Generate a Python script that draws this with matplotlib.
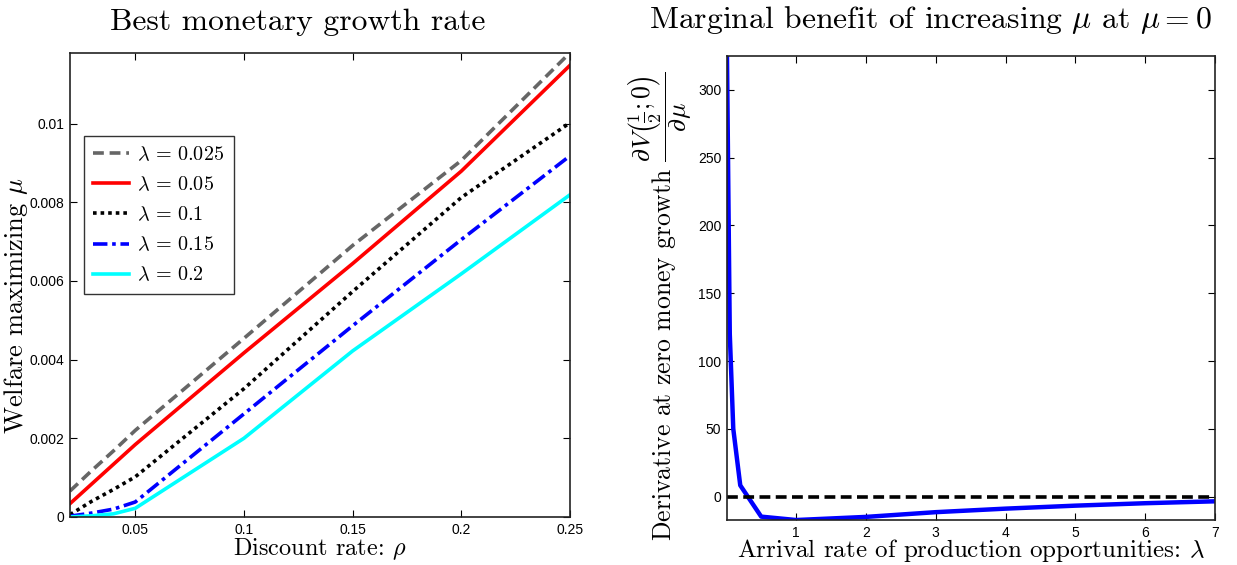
import matplotlib
matplotlib.use("Agg")
import matplotlib.pyplot as plt

plt.rcParams['mathtext.fontset'] = 'cm'
plt.rcParams['axes.unicode_minus'] = False

# left panel: welfare maximizing mu vs discount rate
rho = [0.02, 0.03, 0.04, 0.05, 0.1, 0.15, 0.2, 0.25]
mu_0025 = [0.00066, 0.00118, 0.00168, 0.0022, 0.00454, 0.0069, 0.00906, 0.0118]
mu_005 = [0.00034, 0.00084, 0.00134, 0.00184, 0.00417, 0.00644, 0.00879, 0.01148]
mu_01 = [0.00006, 0.0004, 0.0007, 0.00102, 0.00326, 0.00573, 0.00812, 0.01002]
mu_015 = [0.00002, 0.0001, 0.0002, 0.00038, 0.00262, 0.00486, 0.00705, 0.00918]
mu_02 = [0.0, 0.00003, 0.00008, 0.00022, 0.002, 0.00422, 0.00618, 0.00819]
legend_labels = [r'$\lambda\,=\,0.025$', r'$\lambda\,=\,0.05$', r'$\lambda\,=\,0.1$',
                 r'$\lambda\,=\,0.15$', r'$\lambda\,=\,0.2$']
left_yticks = [0, 0.002, 0.004, 0.006, 0.008, 0.01]
left_xticks = [0.05, 0.1, 0.15, 0.2, 0.25]

# right panel: derivative at zero money growth vs arrival rate
lam = [0.01, 0.05, 0.1, 0.2, 0.5, 1, 2, 3, 4, 5, 6, 7]
deriv = [325, 120, 50, 8.3, -14.8, -17.3, -15.0, -11.5, -8.9, -6.7, -4.9, -3.5]
right_yticks = [0, 50, 100, 150, 200, 250, 300]
right_xticks = [1, 2, 3, 4, 5, 6, 7]

serif = 'cmr10'
tickfont = 'Liberation Sans'

fig = plt.figure(figsize=(12.37, 5.65), dpi=100)
ax1 = fig.add_axes([0.0566, 0.085, 0.4042, 0.8217])
ax2 = fig.add_axes([0.5877, 0.0796, 0.3945, 0.8213])

series = [mu_0025, mu_005, mu_01, mu_015, mu_02]
colors = ['#666666', '#ff0000', '#000000', '#0000ff', '#00ffff']
styles = [(0, (3, 1.6)), '-', (0, (1, 1.1)), (0, (4, 1.3, 1, 1.3)), '-']
for ys, c, ls, lab in zip(series, colors, styles, legend_labels):
    ax1.plot(rho, ys, color=c, linestyle=ls, linewidth=2.6, label=lab)

ax1.set_xlim(0.02, 0.25)
ax1.set_ylim(0, 0.0118)
ax1.set_xticks(left_xticks)
ax1.set_xticklabels(['0.05', '0.1', '0.15', '0.2', '0.25'])
ax1.set_yticks(left_yticks)
ax1.set_yticklabels(['0', '0.002', '0.004', '0.006', '0.008', '0.01'])
ax1.set_title('Best monetary growth rate', fontsize=22.8, family=serif,
              x=0.456, pad=16)
ax1.set_xlabel(r'Discount rate: $\rho$', fontsize=17.5, family=serif, labelpad=0)
ax1.set_ylabel(r'Welfare maximizing $\mu$', fontsize=19, family=serif)
ax1.yaxis.set_label_coords(-0.08, 0.455)
leg = ax1.legend(loc='upper left', bbox_to_anchor=(0.028, 0.82), fontsize=14.5,
                 fancybox=False, edgecolor='black', handlelength=1.8,
                 borderpad=0.45, labelspacing=0.55, handletextpad=0.4,
                 borderaxespad=0)
leg.get_frame().set_linewidth(1.0)

ax2.plot(lam, deriv, color='#0000ff', linewidth=3.2)
ax2.axhline(0, color='black', linestyle=(0, (3, 1.5)), linewidth=2.6)
ax2.set_xlim(0.01, 7)
ax2.set_ylim(-17.3, 325)
ax2.set_xticks(right_xticks)
ax2.set_yticks(right_yticks)
ax2.set_title(r'Marginal benefit of increasing $\mu$ at $\mu=0$', fontsize=22.8,
              family=serif, x=0.416, pad=20)
ax2.set_xlabel(r'Arrival rate of production opportunities: $\lambda$', fontsize=18,
               family=serif, labelpad=-1.5)
ax2.set_ylabel(r'Derivative at zero money growth '
               r'$\dfrac{\partial V\left(\frac{1}{2};0\right)}{\partial\mu}$',
               fontsize=18.5, family=serif)
ax2.yaxis.set_label_coords(-0.068, 0.46)

for ax in (ax1, ax2):
    ax.tick_params(direction='in', top=True, right=True, length=5, width=0.8,
                   labelsize=10, pad=4)
    for lab in ax.get_xticklabels() + ax.get_yticklabels():
        lab.set_family(tickfont)
    for sp in ax.spines.values():
        sp.set_linewidth(1.2)
        sp.set_color('#222222')

fig.savefig('out.png', dpi=100)
